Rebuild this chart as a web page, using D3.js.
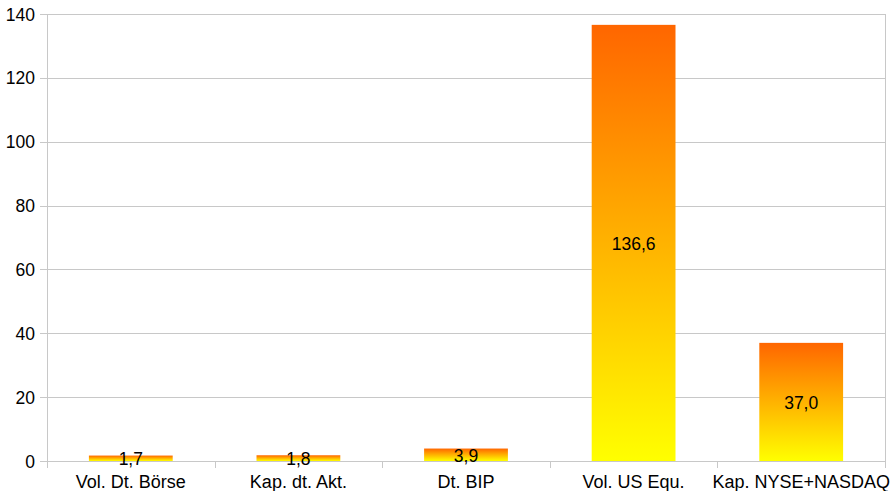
<!DOCTYPE html>
<html>
<head>
<meta charset="utf-8">
<script src="https://cdn.jsdelivr.net/npm/d3@7"></script>
<style>
body { margin: 0; background: #fff; }
text { font-family: "Liberation Sans", Arial, sans-serif; fill: #000; }
</style>
</head>
<body>
<svg width="890" height="491"></svg>
<script>
var categories = ["Vol. Dt. Börse", "Kap. dt. Akt.", "Dt. BIP", "Vol. US Equ.", "Kap. NYSE+NASDAQ"];
var values = [1.7, 1.8, 3.9, 136.6, 37.0];
var yTicks = [0, 20, 40, 60, 80, 100, 120, 140];

var svg = d3.select("svg");
var plotLeft = 47, plotRight = 885, plotTop = 14, plotBottom = 461;

var x = d3.scaleBand().domain(categories).range([plotLeft, plotRight]).paddingInner(0.5).paddingOuter(0.25);
var xb = d3.scaleBand().domain(categories).range([plotLeft, plotRight]);
var y = d3.scaleLinear().domain([0, 140]).range([plotBottom, plotTop]);

var grad = svg.append("defs").append("linearGradient")
	.attr("id", "g").attr("x1", 0).attr("y1", 1).attr("x2", 0).attr("y2", 0);
grad.append("stop").attr("offset", "0%").attr("stop-color", "#ffff00");
grad.append("stop").attr("offset", "100%").attr("stop-color", "#ff6600");

// grid
svg.selectAll(".grid")
	.data(yTicks)
	.enter()
	.append("line")
	.attr("x1", plotLeft - 7).attr("x2", plotRight)
	.attr("y1", function (d) { return Math.round(y(d)) + 0.5; })
	.attr("y2", function (d) { return Math.round(y(d)) + 0.5; })
	.attr("stroke", "#c8c8c8");

// vertical axis line + category ticks
svg.append("line").attr("x1", plotLeft + 0.5).attr("x2", plotLeft + 0.5)
	.attr("y1", plotTop).attr("y2", plotBottom + 7).attr("stroke", "#c8c8c8");
svg.selectAll(".ct")
	.data(categories)
	.enter()
	.append("line")
	.attr("x1", function (d) { return Math.round(xb(d) + xb.bandwidth()) + 0.5; })
	.attr("x2", function (d) { return Math.round(xb(d) + xb.bandwidth()) + 0.5; })
	.attr("y1", function (d, i) { return i == 4 ? plotTop : plotBottom; })
	.attr("y2", plotBottom + 7)
	.attr("stroke", "#c8c8c8");

svg.selectAll(".yl")
	.data(yTicks)
	.enter()
	.append("text")
	.attr("x", 35)
	.attr("y", function (d) { return y(d) + 6.5; })
	.attr("text-anchor", "end")
	.style("font-size", "17.5px")
	.text(function (d) { return d; });

svg.selectAll(".bar")
	.data(values)
	.enter()
	.append("rect")
	.attr("x", function (d, i) { return x(categories[i]); })
	.attr("width", x.bandwidth())
	.attr("y", function (d) { return y(d); })
	.attr("height", function (d) { return plotBottom - y(d); })
	.attr("fill", "url(#g)");

svg.selectAll(".vl")
	.data(values)
	.enter()
	.append("text")
	.attr("x", function (d, i) { return x(categories[i]) + x.bandwidth() / 2; })
	.attr("y", function (d) { return (y(d) + plotBottom) / 2 + 7; })
	.attr("text-anchor", "middle")
	.style("font-size", "17.5px")
	.text(function (d) { return d.toFixed(1).replace(".", ","); });

svg.selectAll(".xl")
	.data(categories)
	.enter()
	.append("text")
	.attr("x", function (d) { return xb(d) + xb.bandwidth() / 2; })
	.attr("y", 488)
	.attr("text-anchor", "middle")
	.style("font-size", "18px")
	.text(function (d) { return d; });
</script>
</body>
</html>
